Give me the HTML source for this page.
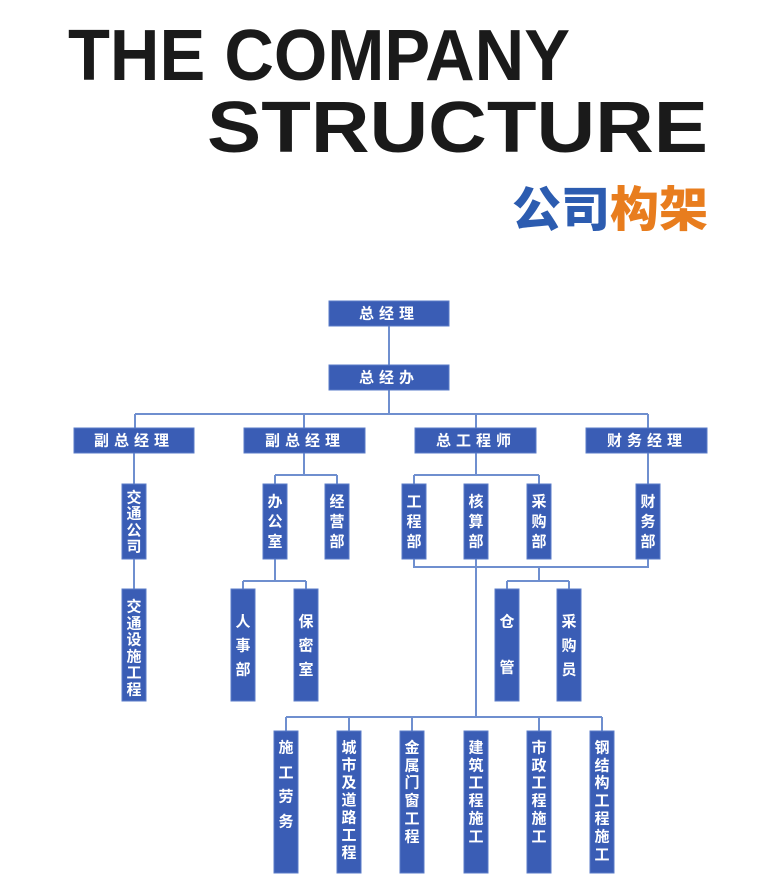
<!DOCTYPE html>
<html><head><meta charset="utf-8"><style>
html,body{margin:0;padding:0;background:#fff;width:765px;height:891px;overflow:hidden}
svg{display:block}
.t{font-family:"Liberation Sans","Noto Sans CJK SC",sans-serif;font-weight:bold;fill:#fff;font-size:15px;text-anchor:middle;dominant-baseline:central}
.h{font-family:"Liberation Sans",sans-serif;font-weight:bold;fill:#1a1a1a;font-size:72px}
</style></head><body>
<svg width="765" height="891" viewBox="0 0 765 891" xmlns="http://www.w3.org/2000/svg">
<text class="h" x="68" y="80" textLength="502" lengthAdjust="spacingAndGlyphs">THE COMPANY</text>
<text class="h" x="207" y="152" textLength="501" lengthAdjust="spacingAndGlyphs">STRUCTURE</text>
<text x="512" y="226" font-family="Noto Sans CJK SC,sans-serif" font-weight="900" font-size="48" fill="#2c5cb0" textLength="98" lengthAdjust="spacingAndGlyphs">公司</text>
<text x="610" y="226" font-family="Noto Sans CJK SC,sans-serif" font-weight="900" font-size="48" fill="#e87d1e" textLength="98" lengthAdjust="spacingAndGlyphs">构架</text>

<g stroke="#6f8fcf" stroke-width="2" fill="none">
<path d="M389 326V365M389 390V414M135 414H648M135 414V428M304 414V428M476 414V428M648 414V428"/>
<path d="M134 453V484M134 559V589"/>
<path d="M304 453V475M275 475H337M275 475V484M337 475V484"/>
<path d="M476 453V475M414 475H539M414 475V484M539 475V484"/>
<path d="M648 453V484"/>
<path d="M414 559V567H648V559M476 559V717"/>
<path d="M539 567V581M507 581H569M507 581V589M569 581V589"/>
<path d="M275 559V581M243 581H306M243 581V589M306 581V589"/>
<path d="M286 717H602M286 717V731M349 717V731M412 717V731M539 717V731M602 717V731"/>
</g>

<g fill="#3a5db5" stroke="#5a7bc8" stroke-width="1">
<rect x="329" y="301" width="120" height="25"/>
<rect x="329" y="365" width="120" height="25"/>
<rect x="74" y="428" width="120" height="25"/>
<rect x="244" y="428" width="121" height="25"/>
<rect x="415" y="428" width="121" height="25"/>
<rect x="586" y="428" width="121" height="25"/>
<rect x="122" y="484" width="24" height="75"/>
<rect x="263" y="484" width="24" height="75"/>
<rect x="325" y="484" width="24" height="75"/>
<rect x="402" y="484" width="24" height="75"/>
<rect x="464" y="484" width="24" height="75"/>
<rect x="527" y="484" width="24" height="75"/>
<rect x="636" y="484" width="24" height="75"/>
<rect x="122" y="589" width="24" height="112"/>
<rect x="231" y="589" width="24" height="112"/>
<rect x="294" y="589" width="24" height="112"/>
<rect x="495" y="589" width="24" height="112"/>
<rect x="557" y="589" width="24" height="112"/>
<rect x="274" y="731" width="24" height="142"/>
<rect x="337" y="731" width="24" height="142"/>
<rect x="400" y="731" width="24" height="142"/>
<rect x="464" y="731" width="24" height="142"/>
<rect x="527" y="731" width="24" height="142"/>
<rect x="590" y="731" width="24" height="142"/>
</g>

<g class="t" font-family="Liberation Sans,Noto Sans CJK SC,sans-serif">
<text class="t" x="389" y="314" letter-spacing="5">总经理</text>
<text class="t" x="389" y="378" letter-spacing="5">总经办</text>
<text class="t" x="134" y="441" letter-spacing="5">副总经理</text>
<text class="t" x="305" y="441" letter-spacing="5">副总经理</text>
<text class="t" x="476" y="441" letter-spacing="5">总工程师</text>
<text class="t" x="647" y="441" letter-spacing="5">财务经理</text>

<text class="t" x="134" y="498">交</text><text class="t" x="134" y="514">通</text><text class="t" x="134" y="531">公</text><text class="t" x="134" y="547">司</text>
<text class="t" x="275" y="502">办</text><text class="t" x="275" y="522">公</text><text class="t" x="275" y="542">室</text>
<text class="t" x="337" y="502">经</text><text class="t" x="337" y="522">营</text><text class="t" x="337" y="542">部</text>
<text class="t" x="414" y="502">工</text><text class="t" x="414" y="522">程</text><text class="t" x="414" y="542">部</text>
<text class="t" x="476" y="502">核</text><text class="t" x="476" y="522">算</text><text class="t" x="476" y="542">部</text>
<text class="t" x="539" y="502">采</text><text class="t" x="539" y="522">购</text><text class="t" x="539" y="542">部</text>
<text class="t" x="648" y="502">财</text><text class="t" x="648" y="522">务</text><text class="t" x="648" y="542">部</text>

<text class="t" x="134" y="607">交</text><text class="t" x="134" y="624">通</text><text class="t" x="134" y="640">设</text><text class="t" x="134" y="657">施</text><text class="t" x="134" y="673">工</text><text class="t" x="134" y="690">程</text>
<text class="t" x="243" y="622">人</text><text class="t" x="243" y="646">事</text><text class="t" x="243" y="670">部</text>
<text class="t" x="306" y="622">保</text><text class="t" x="306" y="646">密</text><text class="t" x="306" y="670">室</text>
<text class="t" x="507" y="622">仓</text><text class="t" x="507" y="668">管</text>
<text class="t" x="569" y="622">采</text><text class="t" x="569" y="646">购</text><text class="t" x="569" y="670">员</text>

<text class="t" x="286" y="748">施</text><text class="t" x="286" y="773">工</text><text class="t" x="286" y="797">劳</text><text class="t" x="286" y="822">务</text>
<text class="t" x="349" y="748">城</text><text class="t" x="349" y="765.5">市</text><text class="t" x="349" y="783">及</text><text class="t" x="349" y="800.5">道</text><text class="t" x="349" y="818">路</text><text class="t" x="349" y="835.5">工</text><text class="t" x="349" y="853">程</text>
<text class="t" x="412" y="748">金</text><text class="t" x="412" y="766">属</text><text class="t" x="412" y="783">门</text><text class="t" x="412" y="801">窗</text><text class="t" x="412" y="819">工</text><text class="t" x="412" y="837">程</text>
<text class="t" x="476" y="748">建</text><text class="t" x="476" y="766">筑</text><text class="t" x="476" y="783">工</text><text class="t" x="476" y="801">程</text><text class="t" x="476" y="819">施</text><text class="t" x="476" y="837">工</text>
<text class="t" x="539" y="748">市</text><text class="t" x="539" y="766">政</text><text class="t" x="539" y="783">工</text><text class="t" x="539" y="801">程</text><text class="t" x="539" y="819">施</text><text class="t" x="539" y="837">工</text>
<text class="t" x="602" y="748">钢</text><text class="t" x="602" y="766">结</text><text class="t" x="602" y="783">构</text><text class="t" x="602" y="801">工</text><text class="t" x="602" y="819">程</text><text class="t" x="602" y="837">施</text><text class="t" x="602" y="855">工</text>
</g>
</svg>
</body></html>
